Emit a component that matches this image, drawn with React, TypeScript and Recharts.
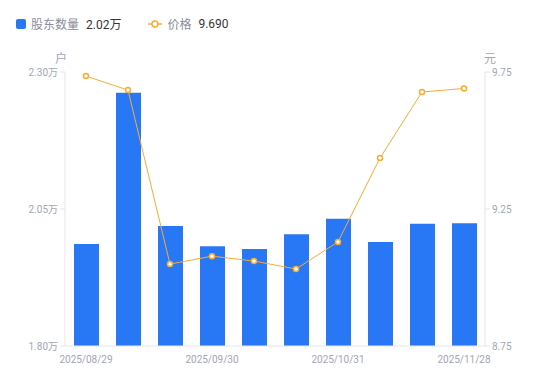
import React from "react";
import { ComposedChart, Bar, Line, XAxis, YAxis } from "recharts";

const dates = [
  "2025/08/29",
  "2025/09/10",
  "2025/09/19",
  "2025/09/30",
  "2025/10/10",
  "2025/10/20",
  "2025/10/31",
  "2025/11/10",
  "2025/11/20",
  "2025/11/28",
];
const holders = [1.986, 2.262, 2.019, 1.982, 1.977, 2.004, 2.032, 1.99, 2.023, 2.024];
const prices = [9.735, 9.684, 9.049, 9.078, 9.06, 9.031, 9.13, 9.436, 9.677, 9.69];
const leftTicks = [1.8, 2.05, 2.3];
const rightTicks = [8.75, 9.25, 9.75];

const data = dates.map((d, i) => ({ date: d, holders: holders[i], price: prices[i] }));

const BLUE = "#2878f5";
const ORANGE = "#f8ac30";
const TICK = { fill: "#a3a6b4", fontSize: 10 };
const AXIS = "#e6e6ea";
const FONT = "Roboto, 'Noto Sans CJK SC', sans-serif";

export default function App() {
  return (
    <div style={{ position: "absolute", left: 0, top: 0, width: 550, height: 381, fontFamily: FONT }}>
      <div style={{ position: "absolute", left: 16, top: 15, display: "flex", alignItems: "center", fontSize: 12 }}>
        <span style={{ width: 10, height: 10, background: BLUE, borderRadius: 2, marginRight: 5 }} />
        <span style={{ color: "#8a8d99" }}>股东数量</span>
        <span style={{ color: "#333", marginLeft: 7 }}>2.02万</span>
        <svg width={14} height={10} style={{ marginLeft: 27, marginRight: 5 }}>
          <line x1={0} y1={5} x2={14} y2={5} stroke={ORANGE} strokeWidth={1.5} />
          <circle cx={7} cy={5} r={3} fill="#fff" stroke={ORANGE} strokeWidth={1.5} />
        </svg>
        <span style={{ color: "#8a8d99" }}>价格</span>
        <span style={{ color: "#333", marginLeft: 7 }}>9.690</span>
      </div>
      <div style={{ position: "absolute", left: 55, top: 49, fontSize: 12, color: "#a3a6b4" }}>户</div>
      <div style={{ position: "absolute", left: 484, top: 49, fontSize: 12, color: "#a3a6b4" }}>元</div>
      <ComposedChart
        width={550}
        height={381}
        data={data}
        margin={{ top: 72, right: 0, left: 0, bottom: 10 }}
        style={{ position: "absolute", left: 0, top: 0 }}
      >
        <XAxis
          dataKey="date"
          interval={2}
          tick={TICK}
          tickLine={false}
          axisLine={{ stroke: AXIS }}
          height={25}
          tickMargin={4}
        />
        <YAxis
          yAxisId="left"
          width={65}
          domain={[1.8, 2.3]}
          ticks={leftTicks}
          tickFormatter={(v: number) => v.toFixed(2) + "万"}
          tick={TICK}
          tickLine={{ stroke: AXIS }}
          tickSize={5}
          axisLine={{ stroke: AXIS }}
          allowDataOverflow
        />
        <YAxis
          yAxisId="right"
          orientation="right"
          width={65}
          domain={[8.75, 9.75]}
          ticks={rightTicks}
          tickFormatter={(v: number) => v.toFixed(2)}
          tick={TICK}
          tickLine={{ stroke: AXIS }}
          tickSize={5}
          axisLine={{ stroke: AXIS }}
          allowDataOverflow
        />
        <Bar yAxisId="left" dataKey="holders" fill={BLUE} barSize={25} isAnimationActive={false} />
        <Line
          yAxisId="right"
          dataKey="price"
          type="linear"
          stroke={ORANGE}
          strokeWidth={1}
          dot={{ r: 2.5, fill: "#fff", stroke: ORANGE, strokeWidth: 1.5 }}
          isAnimationActive={false}
        />
      </ComposedChart>
    </div>
  );
}
